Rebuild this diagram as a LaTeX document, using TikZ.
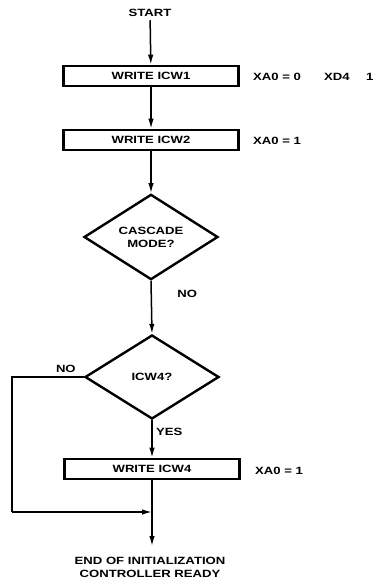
\documentclass[tikz,border=0pt]{standalone}
\usepackage{fontspec}
\setmainfont[FakeStretch=1.25]{Liberation Sans}
\usetikzlibrary{shapes.geometric,arrows.meta}
\begin{document}
\begin{tikzpicture}[x=1pt,y=-1pt,
	font=\bfseries\fontsize{10.5}{13}\selectfont,
	wbox/.style={draw, line width=2.6pt, minimum width=175pt, minimum height=20pt, inner sep=0pt},
	ask/.style={draw, diamond, line width=2.4pt, minimum width=134pt, minimum height=84pt, inner sep=0pt, align=center},
	flow/.style={line width=1.5pt, -{Latex[length=10pt,width=5.5pt]}},
	side/.style={anchor=west, inner sep=0pt}]
\useasboundingbox (0,0) rectangle (376,583);
\node(start) at (150,13) {START};
\node[wbox](w1) at (151,76) {WRITE ICW1};
\node[side] at (253,77) {XA0 = 0};
\node[side] at (324,77) {XD4};
\node[side] at (366,77) {1};
\node[wbox](w2) at (151,140) {WRITE ICW2};
\node[side] at (253,141) {XA0 = 1};
\node[ask](casc) at (151,237) {CASCADE\\MODE?};
\node[ask](icw4) at (152,377) {ICW4?};
\node[wbox](w4) at (152,469) {WRITE ICW4};
\node[side] at (255,471) {XA0 = 1};
\node[align=center](done) at (150,567) {END OF INITIALIZATION\\CONTROLLER READY};
\coordinate(c1) at (12,377);
\coordinate(c2) at (12,512);
\coordinate(join) at (152,512);
\coordinate(stop) at (152,546);
\draw[flow] (start) -- (w1);
\draw[flow] (w1) -- (w2);
\draw[flow] (w2) -- (casc.north);
\draw[flow] (casc.south) -- node[right, pos=0.25, xshift=22pt] {NO} (icw4.north);
\draw[flow] (icw4.south) -- node[right, pos=0.3] {YES} (w4);
\draw[line width=1.5pt] (icw4.west) -- node[above, pos=0.25] {NO} (c1) -- (c2);
\draw[flow] (c2) -- (join);
\draw[flow] (w4) -- (stop);
\end{tikzpicture}
\end{document}
